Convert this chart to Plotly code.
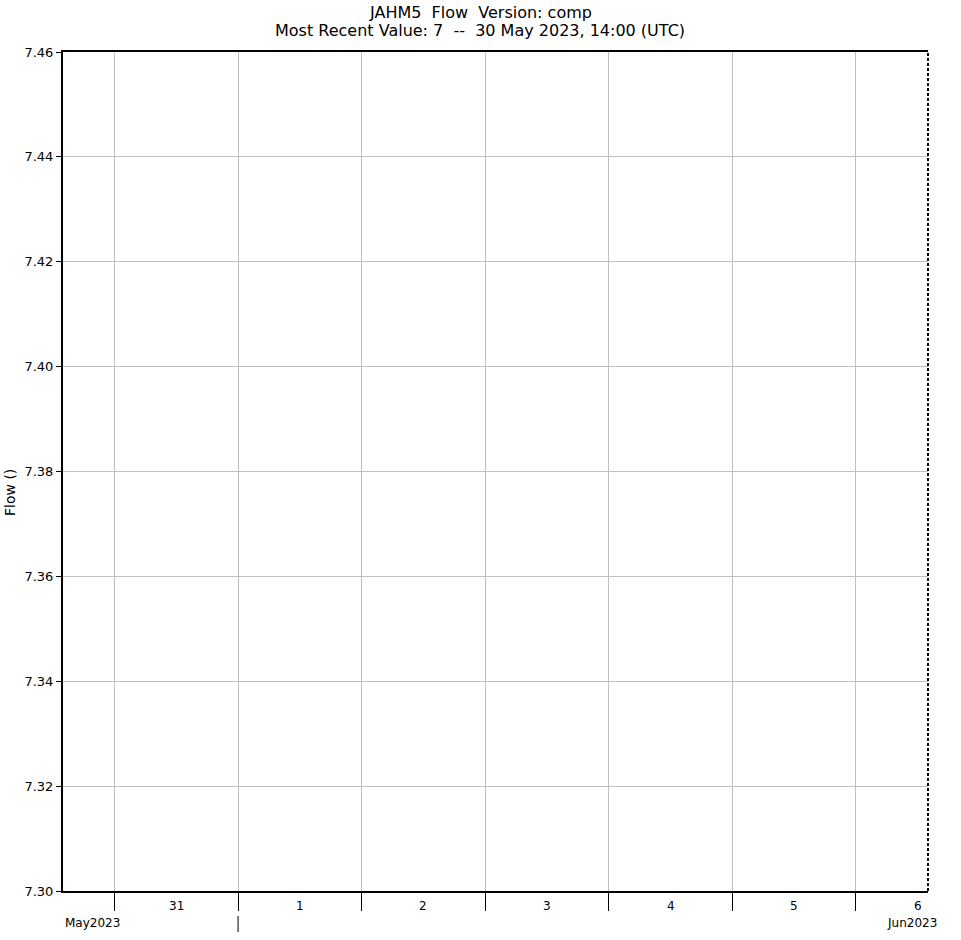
import plotly.graph_objects as go

# Data
obs_times = ["2023-05-30 14:00"]
obs_values = [7]
day_midnights = ["2023-05-31", "2023-06-01", "2023-06-02", "2023-06-03",
                 "2023-06-04", "2023-06-05", "2023-06-06"]
day_noons = ["2023-05-31 12:00", "2023-06-01 12:00", "2023-06-02 12:00", "2023-06-03 12:00",
             "2023-06-04 12:00", "2023-06-05 12:00", "2023-06-06 12:00"]
day_labels = ["31", "1", "2", "3", "4", "5", "6"]
x_start = "2023-05-30 14:00"
x_end = "2023-06-06 14:00"
y_ticks = [7.30, 7.32, 7.34, 7.36, 7.38, 7.40, 7.42, 7.44, 7.46]
month_start = "2023-06-01"
title_lines = ["JAHM5&nbsp; Flow&nbsp; Version: comp",
               "Most Recent Value: 7&nbsp; --&nbsp; 30 May 2023, 14:00 (UTC)"]

FONT = "DejaVu Sans"
W, H = 961, 940
L, R, T, B = 63, 33, 52, 49
PH = H - T - B

fig = go.Figure()
fig.add_trace(go.Scatter(x=obs_times, y=obs_values, mode="lines+markers",
                         line=dict(color="black"), showlegend=False, cliponaxis=True))

fig.update_layout(
    width=W, height=H,
    margin=dict(l=L, r=R, t=T, b=B, autoexpand=False),
    paper_bgcolor="white", plot_bgcolor="white",
    font=dict(family=FONT, size=13, color="black"),
    showlegend=False,
)

fig.update_xaxes(
    type="date", range=[x_start, x_end], automargin=False,
    tickvals=day_midnights, ticktext=[""] * len(day_midnights),
    ticks="outside", ticklen=18, tickcolor="black", tickwidth=1,
    showgrid=True, gridcolor="#c0c0c0", gridwidth=1,
    showline=True, linecolor="black", linewidth=2, mirror=True,
    zeroline=False,
)
fig.update_yaxes(
    range=[7.30, 7.46], tickvals=y_ticks, tickformat=".2f", automargin=False,
    ticks="outside", ticklen=5, tickcolor="black",
    showgrid=True, gridcolor="#c0c0c0", gridwidth=1,
    showline=True, linecolor="black", linewidth=2,
    zeroline=False,
    tickfont=dict(family=FONT, size=13),
)

def py(pix):
    return (H - B - pix) / PH

def px(pix):
    return (pix - L) / (W - L - R)

fig.add_annotation(x=px(480), y=py(12), xref="paper", yref="paper", xanchor="center", yanchor="middle",
                   text=title_lines[0], showarrow=False, font=dict(family=FONT, size=16))
fig.add_annotation(x=px(480), y=py(31), xref="paper", yref="paper", xanchor="center", yanchor="middle",
                   text=title_lines[1], showarrow=False, font=dict(family=FONT, size=16))

fig.add_annotation(x=px(10), y=py(493), xref="paper", yref="paper", xanchor="center", yanchor="middle",
                   text="Flow ()", textangle=-90, showarrow=False, font=dict(family=FONT, size=14))

for xv, lab in zip(day_noons, day_labels):
    fig.add_annotation(x=xv, y=py(906), xref="x", yref="paper",
                       text=lab, showarrow=False, yanchor="middle",
                       font=dict(family=FONT, size=12, color="black"))

fig.add_annotation(x=0, y=py(923), xref="paper", yref="paper", xanchor="left",
                   text="May2023", showarrow=False, yanchor="middle",
                   font=dict(family=FONT, size=12, color="black"))
fig.add_annotation(x=px(939), y=py(923), xref="paper", yref="paper", xanchor="right",
                   text="Jun2023", showarrow=False, yanchor="middle",
                   font=dict(family=FONT, size=12, color="black"))

fig.add_shape(type="line", xref="x", yref="paper", x0=month_start, x1=month_start,
              y0=py(916), y1=py(932), line=dict(color="black", width=1))
fig.add_shape(type="line", xref="paper", yref="paper", x0=1, x1=1, y0=0, y1=1,
              line=dict(color="black", width=2, dash="3px,2px"))

fig.write_html("out.html", config={"displayModeBar": False},
               post_script="document.body.style.margin='0';document.body.style.overflow='hidden';")
